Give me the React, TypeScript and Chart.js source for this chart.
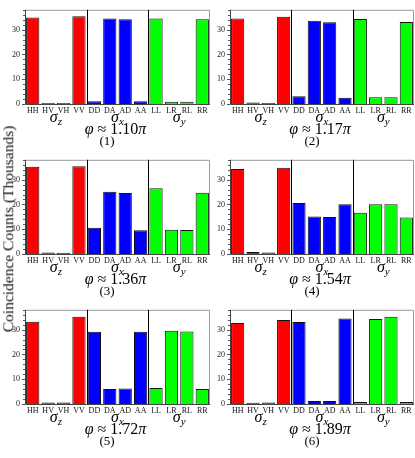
import React, { useEffect, useRef } from 'react';
import { Chart, registerables } from 'chart.js';

Chart.register(...registerables);

const categories = ['HH', 'HV', 'VH', 'VV', 'DD', 'DA', 'AD', 'AA', 'LL', 'LR', 'RL', 'RR'];
const groupSubs = ['z', 'x', 'y'];
const groupColors = ['#ff0000', '#0000ff', '#00ff00'];
const phiValues = ['1.10', '1.17', '1.36', '1.54', '1.72', '1.89'];
const captions = ['(1)', '(2)', '(3)', '(4)', '(5)', '(6)'];
const yAxisTitle = 'Coincidence Counts (Thousands)';
const yMax = 38;
const yMajorStep = 10;
const yMinorStep = 2;

const panel1 = [34.9, 0.4, 0.4, 35.4, 1.1, 34.5, 34.2, 1.1, 34.5, 0.9, 0.9, 34.2];
const panel2 = [34.5, 0.6, 0.4, 35.2, 3.1, 33.6, 33.0, 2.5, 34.3, 2.7, 2.7, 33.1];
const panel3 = [35.2, 0.6, 0.5, 35.4, 10.6, 25.1, 24.6, 9.6, 26.5, 9.8, 9.7, 24.7];
const panel4 = [34.3, 0.8, 0.6, 34.8, 20.6, 15.1, 14.9, 20.1, 16.6, 20.1, 20.1, 14.7];
const panel5 = [33.2, 0.6, 0.6, 35.2, 29.1, 6.1, 6.3, 29.1, 6.5, 29.5, 29.2, 6.1];
const panel6 = [32.7, 0.5, 0.6, 33.9, 33.1, 1.2, 1.2, 34.5, 0.8, 34.3, 35.2, 0.8];
const panels = [panel1, panel2, panel3, panel4, panel5, panel6];

const FONT = '"Liberation Serif", "Times New Roman", serif';

function makeDecor(idx: number) {
  return {
    id: 'decor' + idx,
    afterDraw(chart: any) {
      const { ctx, chartArea } = chart;
      const { left, right, top, bottom } = chartArea;
      const xs = chart.scales.x;
      const ys = chart.scales.y;
      ctx.save();
      // frame
      ctx.lineWidth = 1;
      ctx.strokeStyle = '#9a9a9a';
      ctx.beginPath();
      ctx.moveTo(left + 0.5, top + 0.5);
      ctx.lineTo(right - 0.5, top + 0.5);
      ctx.lineTo(right - 0.5, bottom);
      ctx.stroke();
      ctx.strokeStyle = '#444';
      ctx.beginPath();
      ctx.moveTo(left + 0.5, top);
      ctx.lineTo(left + 0.5, bottom + 0.5);
      ctx.lineTo(right, bottom + 0.5);
      ctx.stroke();
      // group separators
      ctx.strokeStyle = '#000';
      [4, 8].forEach((b) => {
        const xx = Math.round((xs.getPixelForValue(b - 1) + xs.getPixelForValue(b)) / 2) + 0.5;
        ctx.beginPath();
        ctx.moveTo(xx, top);
        ctx.lineTo(xx, bottom);
        ctx.stroke();
      });
      // y tick marks
      ctx.strokeStyle = '#555';
      for (let v = 0; v <= yMax; v += yMinorStep) {
        const yy = Math.round(ys.getPixelForValue(v)) + 0.5;
        const len = v % yMajorStep === 0 ? 3 : 2;
        ctx.beginPath();
        ctx.moveTo(left - len, yy);
        ctx.lineTo(left, yy);
        ctx.stroke();
      }
      // group labels sigma
      ctx.fillStyle = '#000';
      ctx.textBaseline = 'alphabetic';
      ctx.textAlign = 'left';
      groupSubs.forEach((s, g) => {
        const cx = (xs.getPixelForValue(4 * g + 1) + xs.getPixelForValue(4 * g + 2)) / 2;
        ctx.font = `italic 16px ${FONT}`;
        const w1 = ctx.measureText('σ').width;
        ctx.font = `italic 11px ${FONT}`;
        const w2 = ctx.measureText(s).width;
        const x0 = cx - (w1 + w2) / 2;
        const base = bottom + 18;
        ctx.font = `italic 16px ${FONT}`;
        ctx.fillText('σ', x0, base);
        ctx.font = `italic 11px ${FONT}`;
        ctx.fillText(s, x0 + w1, base + 3);
      });
      // phi line
      const segs = [
        { t: 'φ', f: `italic 16px ${FONT}` },
        { t: ' ≈ ', f: `16px ${FONT}` },
        { t: phiValues[idx], f: `16px ${FONT}` },
        { t: 'π', f: `italic 16px ${FONT}` },
      ];
      let total = 0;
      segs.forEach((sg) => {
        ctx.font = sg.f;
        total += ctx.measureText(sg.t).width;
      });
      let px = (left + right) / 2 - 2 - total / 2;
      const pBase = bottom + 30;
      segs.forEach((sg) => {
        ctx.font = sg.f;
        ctx.fillText(sg.t, px, pBase);
        px += ctx.measureText(sg.t).width;
      });
      // caption
      ctx.font = `13px ${FONT}`;
      ctx.textAlign = 'center';
      ctx.fillText(captions[idx], 107, bottom + 41);
      ctx.restore();
    },
  };
}

function Panel({ idx }: { idx: number }) {
  const ref = useRef<HTMLCanvasElement>(null);
  const col = idx % 2;
  const row = Math.floor(idx / 2);
  const width = col === 0 ? 211 : 210;
  const height = 150;
  useEffect(() => {
    const colors = categories.map((_, i) => groupColors[Math.floor(i / 4)]);
    const chart = new Chart(ref.current as HTMLCanvasElement, {
      type: 'bar',
      data: {
        labels: categories,
        datasets: [
          {
            data: panels[idx],
            backgroundColor: colors,
            borderColor: '#111',
            borderWidth: 1,
            barPercentage: 0.86,
            categoryPercentage: 1,
          },
        ],
      },
      options: {
        animation: false,
        responsive: false,
        maintainAspectRatio: false,
        devicePixelRatio: 1,
        layout: { padding: { top: 5, right: 1, left: 0, bottom: 0 } },
        plugins: { legend: { display: false }, tooltip: { enabled: false } },
        scales: {
          x: {
            grid: { display: false, drawTicks: false },
            border: { display: false },
            ticks: {
              font: { family: FONT, size: 8 },
              color: '#111',
              padding: 2,
              maxRotation: 0,
              minRotation: 0,
              autoSkip: false,
            },
            afterFit: (s: any) => {
              s.height = 46;
            },
          },
          y: {
            min: 0,
            max: yMax,
            grid: { display: false, drawTicks: false },
            border: { display: false },
            ticks: {
              stepSize: yMinorStep,
              autoSkip: false,
              callback: (v: any) => (Number(v) % yMajorStep === 0 ? String(v) : ''),
              font: { family: FONT, size: 8 },
              color: '#222',
              padding: 5,
            },
            afterFit: (s: any) => {
              s.width = 25;
            },
          },
        },
      } as any,
      plugins: [makeDecor(idx)],
    });
    return () => chart.destroy();
  }, [idx]);
  return (
    <canvas
      ref={ref}
      width={width}
      height={height}
      style={{ position: 'absolute', left: col === 0 ? 0 : 205, top: row * 150, width, height }}
    />
  );
}

export default function App() {
  useEffect(() => {
    document.body.style.margin = '0';
    document.body.style.background = '#fff';
  }, []);
  return (
    <div style={{ position: 'relative', width: 415, height: 458, background: '#fff', overflow: 'hidden' }}>
      {panels.map((_, i) => (
        <Panel key={i} idx={i} />
      ))}
      <div
        style={{
          position: 'absolute',
          left: 8,
          top: 229,
          transform: 'translate(-50%, -50%) rotate(-90deg)',
          whiteSpace: 'nowrap',
          fontFamily: FONT,
          fontSize: 15.5,
          fontWeight: 'normal',
          color: '#111',
          lineHeight: 1,
        }}
      >
        {yAxisTitle}
      </div>
    </div>
  );
}
